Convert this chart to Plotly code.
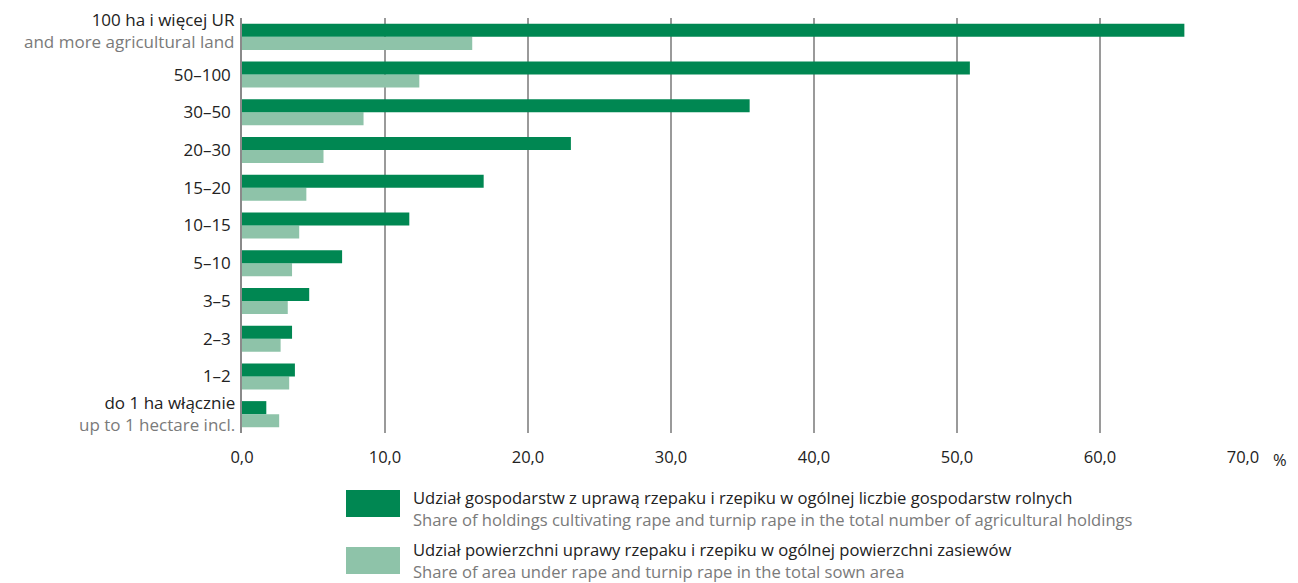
import plotly.graph_objects as go

# Farm size groups, bottom to top
groups_pl = ["do 1 ha włącznie", "1–2", "2–3", "3–5", "5–10", "10–15",
             "15–20", "20–30", "30–50", "50–100", "100 ha i więcej UR"]
groups_en = ["up to 1 hectare incl.", "", "", "", "", "", "", "", "", "",
             "and more agricultural land"]

# Share of holdings growing rape (%)
holdings_share = [1.7, 3.7, 3.5, 4.7, 7.0, 11.7, 16.9, 23.0, 35.5, 50.9, 65.9]
# Share of sown area under rape (%)
area_share = [2.6, 3.3, 2.7, 3.2, 3.5, 4.0, 4.5, 5.7, 8.5, 12.4, 16.1]

x_ticks = [0, 10, 20, 30, 40, 50, 60, 70]
x_tick_labels = ["0,0", "10,0", "20,0", "30,0", "40,0", "50,0", "60,0", "70,0"]

legend_pl = ["Udział gospodarstw z uprawą rzepaku i rzepiku w ogólnej liczbie gospodarstw rolnych",
             "Udział powierzchni uprawy rzepaku i rzepiku w ogólnej powierzchni zasiewów"]
legend_en = ["Share of holdings cultivating rape and turnip rape in the total number of agricultural holdings",
             "Share of area under rape and turnip rape in the total sown area"]

DARK = "#008752"
LIGHT = "#8ec3a9"
GREY_TXT = "#7a7a7a"
TXT = "#222222"
FONT = "Open Sans, Noto Sans, sans-serif"

ypos = list(range(len(groups_pl)))

# plot area in pixels
L, R, T, B = 242, 1243, 18, 433
W, H = R - L, B - T

fig = go.Figure()
fig.add_trace(go.Bar(y=ypos, x=area_share, orientation="h",
                     marker=dict(color=LIGHT, line=dict(width=0)), name=legend_pl[1]))
fig.add_trace(go.Bar(y=ypos, x=holdings_share, orientation="h",
                     marker=dict(color=DARK, line=dict(width=0)), name=legend_pl[0]))

# single-line group labels go on the axis; two-line ones are placed as annotations
tick_text = [pl if not en else "" for pl, en in zip(groups_pl, groups_en)]

fig.update_layout(
    width=1298, height=583,
    margin=dict(l=L, r=1298 - R, t=T, b=583 - B),
    paper_bgcolor="white", plot_bgcolor="white",
    barmode="group", bargap=0.31, bargroupgap=0,
    showlegend=False,
    font=dict(family=FONT, size=16, color=TXT),
    xaxis=dict(range=[0, 70], tickvals=x_ticks, ticktext=x_tick_labels,
               showgrid=True, gridcolor="#9a9a9a", gridwidth=1.5,
               zeroline=False, showline=False, ticks="",
               tickfont=dict(size=16.5, color=TXT), ticklabelstandoff=12),
    yaxis=dict(range=[-0.5, len(groups_pl) - 0.5], tickvals=ypos, ticktext=tick_text,
               showgrid=False, zeroline=False, showline=True, linecolor="#8a8a8a",
               linewidth=1.5, ticks="", tickfont=dict(size=17, color=TXT),
               ticklabelstandoff=6),
)

for yi, (pl, en) in enumerate(zip(groups_pl, groups_en)):
    if not en:
        continue
    shift = 6 if yi == len(groups_pl) - 1 else 1
    fig.add_annotation(x=0, y=yi, xref="paper", yref="y", xanchor="right",
                       yanchor="middle", align="right", showarrow=False,
                       xshift=-6, yshift=shift, borderpad=0,
                       text=f"{pl}<br><span style='color:{GREY_TXT}'>{en}</span>",
                       font=dict(size=17, color=TXT))

# percent sign after the last tick label
fig.add_annotation(x=1.0, y=0, xref="paper", yref="paper", text="%",
                   showarrow=False, xanchor="left", yanchor="top",
                   xshift=28, yshift=-13, font=dict(size=16.5, color=TXT))

# Legend drawn as swatches with bilingual captions
for i, (pl, en, col) in enumerate(zip(legend_pl, legend_en, [DARK, LIGHT])):
    top = 490 + i * 57
    fig.add_shape(type="rect", xref="paper", yref="paper",
                  x0=(346 - L) / W, x1=(400 - L) / W,
                  y0=(B - top) / H, y1=(B - top - 27) / H,
                  fillcolor=col, line=dict(width=0))
    cy = 508 if i == 0 else 560
    fig.add_annotation(x=(412 - L) / W, y=(B - cy) / H,
                       xref="paper", yref="paper", xanchor="left", yanchor="middle",
                       align="left", showarrow=False, borderpad=0,
                       text=f"{pl}<br><span style='color:{GREY_TXT}'>{en}</span>",
                       font=dict(family=FONT, size=16.6, color=TXT))

fig.write_html("out.html")
